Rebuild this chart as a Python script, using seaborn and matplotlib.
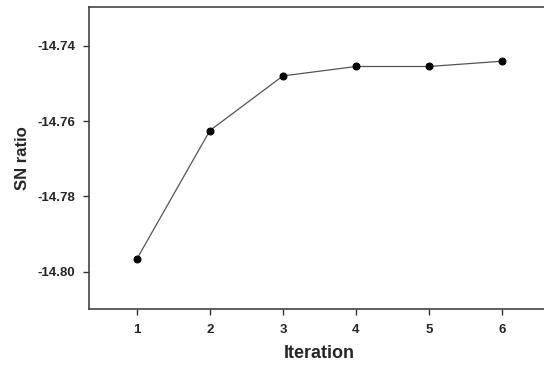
import matplotlib
matplotlib.use("Agg")
import matplotlib.pyplot as plt
import seaborn as sns
import pandas as pd

iterations = [1, 2, 3, 4, 5, 6]
sn_ratio = [-14.7966, -14.7625, -14.7480, -14.7455, -14.7455, -14.7441]
y_ticks = [-14.80, -14.78, -14.76, -14.74]

sns.set_style("white")
plt.rcParams['font.family'] = ['Liberation Sans', 'DejaVu Sans']

df = pd.DataFrame({"Iteration": iterations, "SN ratio": sn_ratio})

fig = plt.figure(figsize=(5.44, 3.68), dpi=100)
ax = fig.add_axes([89/544, 1 - 309/368, 1 - 89/544 + 0.01, (309 - 7)/368])

sns.lineplot(data=df, x="Iteration", y="SN ratio", ax=ax, color="#555555",
             linewidth=0.9, marker="o", markersize=5, markerfacecolor="black",
             markeredgecolor="black")

ax.set_xlim(0.344, 6.65)
ax.set_ylim(-14.8099, -14.7297)
ax.set_xticks(iterations)
ax.set_yticks(y_ticks)
ax.set_yticklabels([f"{v:.2f}" for v in y_ticks])
ax.tick_params(axis="both", direction="out", length=4, width=1, color="#333333",
               labelsize=9.5, left=True, bottom=True)
ax.tick_params(axis="x", pad=7)
ax.tick_params(axis="y", pad=6)
for lbl in ax.get_xticklabels() + ax.get_yticklabels():
    lbl.set_fontweight("bold")

ax.set_xlabel("Iteration", fontsize=13, fontweight="bold", labelpad=6)
ax.set_ylabel("SN ratio", fontsize=12, fontweight="bold", labelpad=5)

for side in ["left", "bottom", "top"]:
    ax.spines[side].set_visible(True)
    ax.spines[side].set_color("#444444")
    ax.spines[side].set_linewidth(1.2)
ax.spines["right"].set_visible(False)

fig.savefig("out.png", dpi=100)
